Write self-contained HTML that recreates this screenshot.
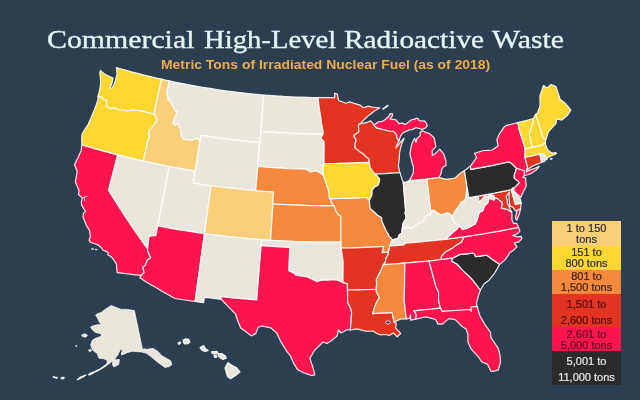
<!DOCTYPE html>
<html><head><meta charset="utf-8"><style>
html,body{margin:0;padding:0;}
.title,.sub,.ll{will-change:transform;}
body{width:640px;height:400px;background:#2c3e50;position:relative;overflow:hidden;font-family:"Liberation Sans",sans-serif;}
.title{position:absolute;left:47px;top:25px;font-family:"Liberation Serif",serif;font-size:25.6px;line-height:30px;color:#e8f3f3;white-space:nowrap;transform-origin:0 0;-webkit-text-stroke:0.35px #e8f3f3;}
.sub{position:absolute;left:160.5px;top:58px;font-family:"Liberation Sans",sans-serif;font-weight:bold;font-size:12.7px;line-height:14px;color:#edae48;white-space:nowrap;transform-origin:0 0;transform:scaleX(1.097);}
svg{position:absolute;left:0;top:0;}
.lb{position:absolute;left:552px;width:69px;}
.ll{position:absolute;left:552px;width:69px;text-align:center;font-size:11px;line-height:11px;white-space:nowrap;-webkit-text-stroke:0.2px currentColor;}
</style></head><body>
<svg width="640" height="400" viewBox="0 0 640 400">
<g stroke="#ffffff" stroke-opacity="0.9" stroke-width="1.2" stroke-linejoin="round">
<path fill="#fed732" d="M116.4,67.6L121.4,69.0L126.4,70.4L131.4,71.8L136.4,73.1L141.5,74.4L146.5,75.7L151.6,76.9L156.6,78.1L161.7,79.2L160.0,86.7L158.3,94.2L156.6,101.7L154.9,109.2L154.7,114.3L149.2,113.0L143.6,111.7L138.0,110.4L135.2,110.5L132.8,110.1L127.3,111.0L123.7,110.0L119.0,109.8L114.3,107.9L110.2,108.6L106.4,106.2L106.7,101.0L103.7,99.2L101.0,96.9L98.0,96.1L99.1,92.2L100.0,88.1L100.6,83.9L100.4,77.6L99.8,73.1L100.3,70.4L103.8,73.5L108.5,76.0L113.0,78.0L111.9,83.6L110.0,88.0L112.0,88.0L114.1,84.2L115.5,80.3L117.1,73.9L116.4,67.6Z"/>
<path fill="#fed732" d="M98.0,96.1L101.0,96.9L103.7,99.2L106.7,101.0L106.4,106.2L110.2,108.6L114.3,107.9L119.0,109.8L123.7,110.0L127.3,111.0L132.8,110.1L135.2,110.5L138.0,110.4L143.6,111.7L149.2,113.0L154.7,114.3L157.3,120.0L154.5,124.1L151.9,127.8L148.4,131.9L149.1,134.6L149.5,138.4L148.0,139.9L146.5,146.9L144.9,154.0L143.3,161.1L138.2,159.9L133.0,158.7L127.9,157.5L122.8,156.2L117.7,154.9L112.6,153.6L107.4,152.2L102.3,150.8L97.2,149.3L92.1,147.9L87.0,146.3L81.9,144.8L81.7,139.7L82.0,134.2L84.9,129.3L88.3,124.1L90.0,120.2L91.7,116.3L93.9,110.7L96.1,105.1L98.0,99.4L98.0,96.1Z"/>
<path fill="#fe154e" d="M81.9,144.8L87.0,146.3L92.1,147.9L97.2,149.3L102.3,150.8L107.4,152.2L112.6,153.6L117.7,154.9L115.9,161.9L114.1,169.0L112.3,176.0L110.5,183.0L108.7,190.1L112.3,196.0L116.0,201.9L119.7,207.8L123.5,213.7L127.4,219.5L131.3,225.4L135.3,231.2L139.3,237.0L143.4,242.8L147.6,248.6L147.7,251.1L150.7,257.8L147.3,260.2L145.2,265.4L142.9,267.4L144.1,272.5L141.3,275.4L135.3,274.8L129.3,274.1L123.3,273.4L117.3,272.7L116.7,269.2L116.5,264.2L114.1,260.5L112.6,258.3L110.1,255.9L108.2,255.4L107.9,252.2L106.1,251.4L102.8,250.0L101.0,247.2L97.6,244.7L94.0,243.5L90.4,242.2L89.1,240.3L90.3,236.6L89.6,230.5L86.6,225.9L84.8,221.5L82.9,217.0L83.4,213.4L85.5,211.4L83.9,209.0L81.5,204.6L81.4,201.5L82.3,198.2L78.4,194.3L79.1,190.7L77.3,186.4L75.4,182.0L76.3,176.6L77.2,171.2L74.5,164.7L78.1,157.5L81.0,150.9L81.9,144.8Z"/>
<path fill="#f9cf7a" d="M161.7,79.2L165.5,80.1L169.3,80.9L168.1,86.8L166.8,92.7L168.3,99.5L171.0,102.4L173.0,106.8L175.5,110.9L177.4,111.0L175.3,116.8L174.2,120.2L173.0,123.5L174.9,125.0L178.6,123.9L179.1,125.7L181.1,131.2L180.6,133.6L183.5,139.1L185.4,139.1L188.5,140.0L193.4,139.6L196.8,138.5L197.7,137.9L200.0,141.5L198.8,148.9L197.6,156.3L196.4,163.7L195.3,171.1L190.0,170.2L184.8,169.3L179.6,168.4L174.4,167.5L169.2,166.5L164.0,165.5L158.8,164.4L153.6,163.3L148.5,162.2L143.3,161.1L144.9,154.0L146.5,146.9L148.0,139.9L149.5,138.4L149.1,134.6L148.4,131.9L151.9,127.8L154.5,124.1L157.3,120.0L154.7,114.3L154.9,109.2L156.6,101.7L158.3,94.2L160.0,86.7L161.7,79.2Z"/>
<path fill="#ebe6db" d="M117.7,154.9L122.8,156.2L127.9,157.5L133.0,158.7L138.2,159.9L143.3,161.1L148.5,162.2L153.6,163.3L158.8,164.4L164.0,165.5L169.2,166.5L167.8,173.9L166.3,181.3L164.9,188.7L163.4,196.2L162.0,203.6L160.6,211.0L159.1,218.5L157.7,225.9L156.8,230.7L155.9,235.4L152.4,235.8L149.0,236.2L148.3,242.4L147.6,248.6L143.4,242.8L139.3,237.0L135.3,231.2L131.3,225.4L127.4,219.5L123.5,213.7L119.7,207.8L116.0,201.9L112.3,196.0L108.7,190.1L110.5,183.0L112.3,176.0L114.1,169.0L115.9,161.9L117.7,154.9Z"/>
<path fill="#ebe6db" d="M169.2,166.5L174.4,167.5L179.6,168.4L184.8,169.3L190.0,170.2L195.3,171.1L194.3,177.0L193.3,183.0L199.3,183.9L205.2,184.8L211.1,185.6L210.0,193.6L208.9,201.6L207.8,209.6L206.7,217.6L205.6,225.6L204.5,233.6L198.6,232.8L192.7,231.9L186.9,231.0L181.0,230.1L175.2,229.1L169.3,228.1L163.5,227.0L157.7,225.9L159.1,218.5L160.6,211.0L162.0,203.6L163.4,196.2L164.9,188.7L166.3,181.3L167.8,173.9L169.2,166.5Z"/>
<path fill="#fe154e" d="M157.7,225.9L163.5,227.0L169.3,228.1L175.2,229.1L181.0,230.1L186.9,231.0L192.7,231.9L198.6,232.8L204.5,233.6L203.4,241.2L202.4,248.7L201.3,256.3L200.3,263.8L199.3,271.4L198.2,278.9L197.2,286.4L196.1,294.0L195.1,301.5L188.3,300.5L181.5,299.5L174.7,298.5L168.8,295.1L162.9,291.7L157.1,288.3L151.3,284.9L145.5,281.4L139.8,277.8L141.3,275.4L144.1,272.5L142.9,267.4L145.2,265.4L147.3,260.2L150.7,257.8L147.7,251.1L147.6,248.6L148.3,242.4L149.0,236.2L152.4,235.8L155.9,235.4L156.8,230.7L157.7,225.9Z"/>
<path fill="#ebe6db" d="M169.3,80.9L174.6,82.0L179.8,83.1L185.1,84.1L190.3,85.1L195.6,86.1L200.9,87.0L206.2,87.8L211.5,88.7L216.8,89.5L222.0,90.3L227.2,91.0L232.4,91.7L237.6,92.3L242.9,92.9L248.1,93.5L253.3,94.0L258.6,94.5L263.8,95.0L263.2,102.2L262.6,109.5L262.0,116.7L261.4,124.0L260.8,131.3L260.3,136.9L259.8,142.6L254.4,142.1L249.1,141.6L243.7,141.0L238.3,140.4L233.0,139.8L227.6,139.2L222.3,138.5L216.9,137.8L211.6,137.0L206.3,136.2L201.0,135.4L200.0,141.5L197.7,137.9L196.8,138.5L193.4,139.6L188.5,140.0L185.4,139.1L183.5,139.1L180.6,133.6L181.1,131.2L179.1,125.7L178.6,123.9L174.9,125.0L173.0,123.5L174.2,120.2L175.3,116.8L177.4,111.0L175.5,110.9L173.0,106.8L171.0,102.4L168.3,99.5L166.8,92.7L168.1,86.8L169.3,80.9Z"/>
<path fill="#ebe6db" d="M200.0,141.5L201.0,135.4L206.3,136.2L211.6,137.0L216.9,137.8L222.3,138.5L227.6,139.2L233.0,139.8L238.3,140.4L243.7,141.0L249.1,141.6L254.4,142.1L259.8,142.6L259.1,150.5L258.4,158.5L257.8,166.5L257.1,174.6L256.4,182.6L255.7,190.6L250.1,190.1L244.5,189.6L239.0,189.0L233.4,188.4L227.8,187.8L222.2,187.1L216.7,186.4L211.1,185.6L205.2,184.8L199.3,183.9L193.3,183.0L194.3,177.0L195.3,171.1L196.4,163.7L197.6,156.3L198.8,148.9L200.0,141.5Z"/>
<path fill="#f9cf7a" d="M211.1,185.6L216.7,186.4L222.2,187.1L227.8,187.8L233.4,188.4L239.0,189.0L244.5,189.6L250.1,190.1L255.7,190.6L261.7,191.1L267.7,191.5L273.6,191.9L273.2,198.0L272.9,204.0L272.4,211.3L272.0,218.5L271.5,225.8L271.1,233.0L270.6,240.3L266.1,240.0L261.5,239.7L255.2,239.2L248.8,238.6L242.5,238.1L236.1,237.4L229.8,236.8L223.5,236.0L217.1,235.3L210.8,234.5L204.5,233.6L205.6,225.6L206.7,217.6L207.8,209.6L208.9,201.6L210.0,193.6L211.1,185.6Z"/>
<path fill="#ebe6db" d="M204.5,233.6L210.8,234.5L217.1,235.3L223.5,236.0L229.8,236.8L236.1,237.4L242.5,238.1L248.8,238.6L255.2,239.2L261.5,239.7L261.1,245.7L260.5,253.5L259.8,261.2L259.2,269.0L258.6,276.7L258.0,284.5L257.3,292.2L256.7,299.9L250.7,299.4L244.7,298.9L238.6,298.4L232.6,297.8L226.6,297.2L220.6,296.6L221.2,299.3L215.6,298.6L209.9,298.0L204.3,297.3L203.6,302.6L199.3,302.1L195.1,301.5L196.1,294.0L197.2,286.4L198.2,278.9L199.3,271.4L200.3,263.8L201.3,256.3L202.4,248.7L203.4,241.2L204.5,233.6Z"/>
<path fill="#ebe6db" d="M263.8,95.0L269.3,95.4L274.7,95.8L280.1,96.2L285.5,96.5L290.9,96.8L296.4,97.0L301.8,97.2L307.2,97.4L312.7,97.5L318.1,97.6L318.7,103.6L319.6,110.4L320.9,117.9L321.4,122.9L322.9,130.3L323.2,134.2L317.5,134.1L311.9,134.0L306.2,133.9L300.5,133.7L294.8,133.5L289.1,133.2L283.4,132.9L277.8,132.6L272.1,132.2L266.4,131.8L260.8,131.3L261.4,124.0L262.0,116.7L262.6,109.5L263.2,102.2L263.8,95.0Z"/>
<path fill="#ebe6db" d="M260.8,131.3L266.4,131.8L272.1,132.2L277.8,132.6L283.4,132.9L289.1,133.2L294.8,133.5L300.5,133.7L306.2,133.9L311.9,134.0L317.5,134.1L323.2,134.2L320.8,138.0L324.1,141.8L324.1,149.0L324.0,156.3L324.0,163.5L322.7,168.3L323.7,175.7L319.1,172.2L315.7,171.0L310.4,172.1L306.1,169.2L300.0,169.0L294.0,168.8L288.0,168.6L281.9,168.2L275.9,167.9L269.8,167.5L263.8,167.0L257.8,166.5L258.4,158.5L259.1,150.5L259.8,142.6L260.3,136.9L260.8,131.3Z"/>
<path fill="#f6893e" d="M257.8,166.5L263.8,167.0L269.8,167.5L275.9,167.9L281.9,168.2L288.0,168.6L294.0,168.8L300.0,169.0L306.1,169.2L310.4,172.1L315.7,171.0L319.1,172.2L323.7,175.7L325.7,181.6L327.1,186.1L328.5,190.5L329.1,193.7L329.3,197.5L330.0,198.8L333.1,205.2L334.2,205.8L328.0,205.8L321.9,205.8L315.8,205.7L309.6,205.6L303.5,205.4L297.4,205.2L291.2,205.0L285.1,204.7L279.0,204.4L272.9,204.0L273.2,198.0L273.6,191.9L267.7,191.5L261.7,191.1L255.7,190.6L256.4,182.6L257.1,174.6L257.8,166.5Z"/>
<path fill="#f6893e" d="M272.9,204.0L279.0,204.4L285.1,204.7L291.2,205.0L297.4,205.2L303.5,205.4L309.6,205.6L315.8,205.7L321.9,205.8L328.0,205.8L334.2,205.8L336.0,211.1L338.0,214.2L340.8,216.3L340.9,222.8L340.9,229.2L340.9,235.6L341.0,242.0L334.6,242.1L328.2,242.1L321.8,242.1L315.4,242.0L309.0,241.9L302.6,241.8L296.2,241.6L289.8,241.3L283.4,241.0L277.0,240.7L270.6,240.3L271.1,233.0L271.5,225.8L272.0,218.5L272.4,211.3L272.9,204.0Z"/>
<path fill="#ebe6db" d="M270.6,240.3L277.0,240.7L283.4,241.0L289.8,241.3L296.2,241.6L302.6,241.8L309.0,241.9L315.4,242.0L321.8,242.1L328.2,242.1L334.6,242.1L341.0,242.0L341.1,248.1L342.1,254.7L343.1,261.4L343.1,268.5L343.0,275.5L343.0,282.6L337.8,280.1L332.3,279.6L327.9,280.2L322.0,280.2L316.5,281.4L312.6,279.5L307.2,277.0L302.3,276.2L296.4,275.5L293.5,272.9L288.7,270.8L289.0,263.0L289.4,255.2L289.7,247.4L284.0,247.1L278.3,246.8L272.5,246.5L266.8,246.1L261.1,245.7L261.5,239.7L266.1,240.0L270.6,240.3Z"/>
<path fill="#fe154e" d="M261.1,245.7L266.8,246.1L272.5,246.5L278.3,246.8L284.0,247.1L289.7,247.4L289.4,255.2L289.0,263.0L288.7,270.8L293.5,272.9L296.4,275.5L302.3,276.2L307.2,277.0L312.6,279.5L316.5,281.4L322.0,280.2L327.9,280.2L332.3,279.6L337.8,280.1L343.0,282.6L347.4,283.6L347.5,290.0L347.6,296.3L347.7,302.5L350.3,307.7L351.6,312.0L351.1,319.9L350.7,325.8L350.3,330.0L347.0,329.6L343.0,332.0L341.0,333.0L338.5,330.0L337.0,336.1L334.0,338.5L331.0,341.0L327.0,343.5L322.9,342.0L321.5,343.5L318.1,346.9L315.0,350.0L313.4,352.0L312.1,354.6L309.9,358.1L311.2,362.5L312.5,366.0L313.8,370.4L314.8,374.8L311.6,375.5L307.6,374.1L303.7,372.7L297.6,369.6L293.5,363.1L290.5,355.9L287.4,352.2L283.9,346.6L280.5,341.1L278.6,337.0L276.7,333.0L273.7,330.4L270.7,327.8L266.3,326.9L262.0,326.0L258.2,327.2L255.7,333.6L251.3,335.9L246.3,332.0L240.7,328.1L237.9,321.3L235.4,313.8L231.5,309.8L227.5,305.8L224.3,302.5L221.2,299.3L220.6,296.6L226.6,297.2L232.6,297.8L238.6,298.4L244.7,298.9L250.7,299.4L256.7,299.9L257.3,292.2L258.0,284.5L258.6,276.7L259.2,269.0L259.8,261.2L260.5,253.5L261.1,245.7Z"/>
<path fill="#e23421" d="M318.1,97.6L323.6,97.7L329.2,97.7L334.7,97.7L334.6,93.2L337.3,94.1L338.7,100.6L342.3,101.7L345.6,103.2L349.9,101.9L355.2,103.7L360.1,105.1L363.5,107.8L368.2,106.1L372.3,107.1L376.0,107.5L379.7,107.9L376.9,109.6L374.2,111.2L371.5,113.3L368.7,115.4L364.0,119.7L360.1,123.8L358.5,124.8L358.8,131.9L353.8,135.4L356.1,140.1L355.0,144.4L355.1,148.0L359.5,151.4L363.0,153.7L365.3,156.0L368.8,158.9L369.3,162.4L363.6,162.7L358.0,162.9L352.3,163.1L346.7,163.3L341.0,163.4L335.3,163.5L329.7,163.5L324.0,163.5L324.0,156.3L324.1,149.0L324.1,141.8L320.8,138.0L323.2,134.2L322.9,130.3L321.4,122.9L320.9,117.9L319.6,110.4L318.7,103.6L318.1,97.6Z"/>
<path fill="#fed732" d="M324.0,163.5L329.7,163.5L335.3,163.5L341.0,163.4L346.7,163.3L352.3,163.1L358.0,162.9L363.6,162.7L369.3,162.4L370.2,167.8L372.6,171.0L375.0,174.2L377.2,175.9L379.6,178.8L379.3,181.8L378.2,185.2L374.7,186.9L372.2,190.1L372.0,195.0L369.4,200.2L366.4,197.5L360.4,197.8L354.3,198.1L348.2,198.3L342.1,198.5L336.1,198.7L330.0,198.8L329.3,197.5L329.1,193.7L328.5,190.5L327.1,186.1L325.7,181.6L323.7,175.7L322.7,168.3L324.0,163.5Z"/>
<path fill="#f6893e" d="M330.0,198.8L336.1,198.7L342.1,198.5L348.2,198.3L354.3,198.1L360.4,197.8L366.4,197.5L369.4,200.2L369.8,205.6L370.2,208.4L373.9,211.8L377.7,215.3L381.5,217.5L381.9,221.1L383.7,225.2L385.5,229.3L389.3,236.4L392.8,239.8L391.1,242.3L389.9,246.0L388.4,252.2L382.0,252.7L383.7,246.4L377.7,246.8L371.6,247.1L365.5,247.4L359.4,247.6L353.3,247.8L347.2,248.0L341.1,248.1L341.0,242.0L340.9,235.6L340.9,229.2L340.9,222.8L340.8,216.3L338.0,214.2L336.0,211.1L334.2,205.8L333.1,205.2L330.0,198.8Z"/>
<path fill="#e23421" d="M341.1,248.1L347.2,248.0L353.3,247.8L359.4,247.6L365.5,247.4L371.6,247.1L377.7,246.8L383.7,246.4L382.0,252.7L388.4,252.2L388.1,254.7L385.9,258.4L385.2,262.7L383.3,264.7L380.8,270.9L378.1,275.9L376.4,279.6L376.6,284.4L376.2,289.3L370.4,289.5L364.7,289.7L359.0,289.8L353.2,290.0L347.5,290.0L347.4,283.6L343.0,282.6L343.0,275.5L343.1,268.5L343.1,261.4L342.1,254.7L341.1,248.1Z"/>
<path fill="#e23421" d="M347.5,290.0L353.2,290.0L359.0,289.8L364.7,289.7L370.4,289.5L376.2,289.3L376.3,291.7L379.3,297.6L376.5,302.5L374.7,306.7L372.6,313.6L379.1,313.2L385.6,312.9L392.1,312.5L393.1,317.4L394.1,322.2L396.3,323.6L395.5,327.9L398.9,331.3L400.7,333.6L397.2,336.8L393.3,332.9L389.2,335.5L385.5,334.5L380.3,334.8L377.1,333.8L372.8,331.0L366.5,331.3L361.8,330.1L357.0,328.9L350.3,330.0L350.7,325.8L351.1,319.9L351.6,312.0L350.3,307.7L347.7,302.5L347.6,296.3L347.5,290.0Z"/>
<path fill="#e23421" d="M360.1,123.8L363.7,123.1L367.4,122.3L370.6,120.9L374.2,124.9L374.0,125.3L376.7,127.9L381.0,129.0L385.3,130.0L388.9,131.0L393.6,131.3L396.6,134.7L397.1,138.2L398.9,141.1L397.0,144.3L396.0,148.0L398.0,145.4L400.6,142.1L404.1,138.2L401.7,143.9L400.1,150.0L399.5,153.1L399.4,157.4L398.9,161.6L398.4,165.9L399.6,171.5L399.9,172.6L394.9,173.0L389.9,173.3L384.9,173.6L380.0,174.0L375.0,174.2L372.6,171.0L370.2,167.8L369.3,162.4L368.8,158.9L365.3,156.0L363.0,153.7L359.5,151.4L355.1,148.0L355.0,144.4L356.1,140.1L353.8,135.4L358.8,131.9L358.5,124.8L360.1,123.8Z"/>
<path fill="#2b2b2b" d="M375.0,174.2L380.0,174.0L384.9,173.6L389.9,173.3L394.9,173.0L399.9,172.6L402.3,180.1L403.2,181.9L403.8,188.9L404.4,196.0L405.0,203.1L405.6,210.2L405.2,213.3L406.1,218.0L402.9,223.8L402.2,229.3L401.8,233.0L399.1,235.0L398.0,238.4L392.8,239.8L389.3,236.4L385.5,229.3L383.7,225.2L381.9,221.1L381.5,217.5L377.7,215.3L373.9,211.8L370.2,208.4L369.8,205.6L369.4,200.2L372.0,195.0L372.2,190.1L374.7,186.9L378.2,185.2L379.3,181.8L379.6,178.8L377.2,175.9L375.0,174.2Z"/>
<path fill="#ebe6db" d="M403.2,181.9L405.2,182.6L409.3,180.6L415.2,180.1L421.2,179.6L427.1,179.0L428.0,186.9L428.9,194.8L429.8,202.7L430.7,210.6L431.4,214.4L425.9,215.7L423.3,221.5L417.9,223.6L414.4,226.4L411.3,228.8L406.9,226.8L402.2,229.3L402.9,223.8L406.1,218.0L405.2,213.3L405.6,210.2L405.0,203.1L404.4,196.0L403.8,188.9L403.2,181.9Z"/>
<path fill="#fe154e" d="M409.3,180.6L415.2,180.1L421.2,179.6L427.1,179.0L433.1,178.3L439.1,177.5L441.2,173.3L441.6,169.8L443.0,167.0L445.9,165.7L446.0,161.1L443.8,154.1L439.7,149.2L435.5,153.4L432.3,155.6L432.1,150.8L435.9,146.7L435.0,142.2L434.2,137.8L429.4,133.6L424.6,131.8L422.0,130.5L420.0,132.9L420.4,135.6L418.0,137.4L416.8,138.9L416.0,142.4L414.6,138.3L413.3,140.9L412.2,142.8L411.0,147.2L409.9,153.9L411.0,158.4L412.1,162.8L413.5,167.5L413.2,173.0L411.7,176.2L409.3,180.6ZM374.0,125.3L378.1,122.0L383.0,121.1L386.2,118.7L388.8,116.2L390.0,113.7L392.5,113.8L392.5,115.6L390.0,118.8L393.1,119.4L396.2,120.0L399.0,123.6L402.5,123.1L405.3,124.6L408.3,122.3L411.2,120.0L414.4,119.1L417.5,118.1L419.4,120.6L425.0,121.2L426.5,123.7L427.2,125.8L425.4,128.0L422.0,129.4L419.0,128.5L416.1,127.6L412.1,129.6L409.2,129.9L406.0,131.4L402.8,132.9L400.5,136.1L398.9,141.1L397.1,138.2L396.6,134.7L393.6,131.3L388.9,131.0L385.3,130.0L381.0,129.0L376.7,127.9L374.0,125.3Z"/>
<path fill="#f6893e" d="M427.1,179.0L433.1,178.3L439.1,177.5L440.5,177.9L446.1,179.3L449.2,178.9L452.3,178.5L454.9,178.1L458.8,174.4L462.1,172.0L464.3,170.7L465.7,178.7L467.0,186.7L466.7,189.7L466.3,193.8L465.7,197.8L464.8,200.4L460.9,202.6L460.3,204.5L458.3,206.9L456.0,210.3L455.2,211.0L453.4,215.0L452.3,216.1L451.6,215.2L448.1,212.9L444.7,213.9L441.2,214.8L437.8,213.4L433.7,210.3L430.7,210.6L429.8,202.7L428.9,194.8L428.0,186.9L427.1,179.0Z"/>
<path fill="#ebe6db" d="M430.7,210.6L433.7,210.3L437.8,213.4L441.2,214.8L444.7,213.9L448.1,212.9L451.6,215.2L452.3,216.1L452.7,219.4L455.0,222.7L459.3,225.8L459.6,225.8L456.9,229.2L451.8,233.6L449.3,236.3L445.1,239.3L440.1,239.9L435.0,240.5L430.0,241.0L425.0,241.5L418.5,242.1L412.0,242.6L405.5,243.1L403.6,245.0L399.0,245.4L394.5,245.7L389.9,246.0L391.1,242.3L392.8,239.8L398.0,238.4L399.1,235.0L401.8,233.0L402.2,229.3L406.9,226.8L411.3,228.8L414.4,226.4L417.9,223.6L423.3,221.5L425.9,215.7L431.4,214.4L430.7,210.6Z"/>
<path fill="#e23421" d="M445.1,239.3L451.4,238.5L457.7,237.7L464.0,236.8L461.7,241.9L456.3,245.2L451.9,248.6L448.3,250.6L444.7,252.6L441.3,256.9L441.4,259.5L435.2,260.3L429.0,261.0L422.7,261.6L416.4,262.2L410.1,262.7L403.8,263.2L398.7,263.6L393.6,264.0L388.4,264.3L383.3,264.7L385.2,262.7L385.9,258.4L388.1,254.7L388.4,252.2L389.9,246.0L394.5,245.7L399.0,245.4L403.6,245.0L405.5,243.1L412.0,242.6L418.5,242.1L425.0,241.5L430.0,241.0L435.0,240.5L440.1,239.9L445.1,239.3Z"/>
<path fill="#f6893e" d="M383.3,264.7L388.4,264.3L393.6,264.0L398.7,263.6L403.8,263.2L404.9,264.3L404.8,271.6L404.6,279.0L404.5,286.3L404.3,293.6L404.2,300.9L404.9,306.9L405.6,312.9L406.3,318.9L400.1,319.1L394.1,322.2L393.1,317.4L392.1,312.5L385.6,312.9L379.1,313.2L372.6,313.6L374.7,306.7L376.5,302.5L379.3,297.6L376.3,291.7L376.2,289.3L376.6,284.4L376.4,279.6L378.1,275.9L380.8,270.9L383.3,264.7Z"/>
<path fill="#fe154e" d="M403.8,263.2L410.1,262.7L416.4,262.2L422.7,261.6L429.0,261.0L430.7,267.3L432.4,273.6L434.1,279.9L435.8,286.2L438.6,292.5L438.6,296.8L438.6,301.0L440.4,308.1L433.8,308.8L427.2,309.5L420.5,310.2L413.9,310.8L416.3,314.8L415.7,319.1L410.6,320.1L410.6,314.7L409.4,318.4L406.3,318.9L405.6,312.9L404.9,306.9L404.2,300.9L404.3,293.6L404.5,286.3L404.6,279.0L404.8,271.6L404.9,264.3L403.8,263.2Z"/>
<path fill="#fe154e" d="M441.4,259.5L447.3,258.6L453.2,257.8L451.7,261.1L457.0,264.0L461.8,269.4L464.6,272.1L467.5,274.7L472.3,279.5L476.1,284.4L480.4,290.0L478.1,296.9L476.5,303.2L477.0,306.5L471.3,307.0L471.4,311.3L469.6,309.5L462.8,310.0L455.9,310.5L449.1,311.0L442.2,311.4L440.4,308.1L438.6,301.0L438.6,296.8L438.6,292.5L435.8,286.2L434.1,279.9L432.4,273.6L430.7,267.3L429.0,261.0L435.2,260.3L441.4,259.5Z"/>
<path fill="#fe154e" d="M440.4,308.1L442.2,311.4L449.1,311.0L455.9,310.5L462.8,310.0L469.6,309.5L471.4,311.3L471.3,307.0L477.0,306.5L478.5,311.3L480.0,316.0L482.2,319.9L484.4,323.8L487.5,328.2L490.6,332.5L490.9,337.3L494.5,342.8L498.1,348.2L499.8,354.0L500.2,358.2L500.5,362.3L498.4,369.9L493.1,371.4L490.8,371.1L487.6,364.4L481.6,361.7L478.8,357.3L474.9,353.1L471.0,348.8L467.9,342.0L468.0,334.8L466.1,329.0L462.7,327.1L459.0,323.3L455.3,319.6L448.9,318.6L445.6,321.4L442.3,324.2L438.1,324.1L435.5,319.5L430.6,318.2L425.8,316.9L420.8,318.0L415.7,319.1L416.3,314.8L413.9,310.8L420.5,310.2L427.2,309.5L433.8,308.8L440.4,308.1Z"/>
<path fill="#2b2b2b" d="M453.2,257.8L456.6,256.1L460.1,254.4L466.4,253.8L472.8,253.1L474.2,253.7L475.7,256.7L481.2,255.9L486.6,255.1L490.9,258.2L495.2,261.3L499.6,264.4L497.1,268.9L494.5,273.3L491.6,276.9L488.7,280.5L484.1,283.7L480.4,290.0L476.1,284.4L472.3,279.5L467.5,274.7L464.6,272.1L461.8,269.4L457.0,264.0L451.7,261.1L453.2,257.8Z"/>
<path fill="#fe154e" d="M518.6,227.3L512.6,228.5L506.5,229.7L500.5,230.8L494.4,231.9L488.3,233.0L482.3,234.0L476.2,235.0L470.1,235.9L464.0,236.8L461.7,241.9L456.3,245.2L451.9,248.6L448.3,250.6L444.7,252.6L441.3,256.9L441.4,259.5L447.3,258.6L453.2,257.8L456.6,256.1L460.1,254.4L466.4,253.8L472.8,253.1L474.2,253.7L475.7,256.7L481.2,255.9L486.6,255.1L490.9,258.2L495.2,261.3L499.6,264.4L505.0,259.9L507.5,256.3L510.0,252.5L513.7,250.0L517.0,246.9L514.4,243.1L518.8,241.9L521.9,238.7L521.2,236.3L517.5,236.9L512.5,235.6L517.5,233.7L519.9,231.2L518.6,227.3Z"/>
<path fill="#fe154e" d="M518.6,227.3L512.6,228.5L506.5,229.7L500.5,230.8L494.4,231.9L488.3,233.0L482.3,234.0L476.2,235.0L470.1,235.9L464.0,236.8L457.7,237.7L451.4,238.5L445.1,239.3L449.3,236.3L451.8,233.6L456.9,229.2L459.6,225.8L462.7,229.5L467.3,228.2L470.4,226.5L475.2,223.9L477.3,219.2L479.4,212.1L482.5,210.9L484.8,205.6L488.0,202.5L489.0,198.0L494.1,200.1L494.9,197.9L497.6,198.6L499.8,200.6L502.2,202.3L502.2,205.3L501.3,208.0L503.8,208.7L507.9,209.7L511.7,212.0L512.0,215.7L511.8,219.4L513.6,223.4L516.6,223.4L518.6,227.3ZM520.6,208.5L517.1,210.3L516.1,214.8L515.5,218.7L516.8,220.2L519.3,214.1L520.6,208.5Z"/>
<path fill="#ebe6db" d="M494.9,197.9L494.1,200.1L489.0,198.0L488.0,202.5L484.8,205.6L482.5,210.9L479.4,212.1L477.3,219.2L475.2,223.9L470.4,226.5L467.3,228.2L462.7,229.5L459.6,225.8L459.3,225.8L455.0,222.7L452.7,219.4L452.3,216.1L453.4,215.0L455.2,211.0L456.0,210.3L458.3,206.9L460.3,204.5L460.9,202.6L464.8,200.4L465.7,197.8L466.3,193.8L466.7,189.7L467.0,186.7L467.9,192.2L468.8,197.7L473.5,196.9L478.2,196.1L479.2,202.3L482.6,198.6L484.5,196.4L487.8,196.4L489.8,194.4L493.6,195.3L494.9,197.9Z"/>
<path fill="#e23421" d="M478.2,196.1L483.7,195.1L489.2,194.1L494.7,193.0L500.2,191.9L505.8,190.8L511.3,189.6L513.3,197.0L515.3,204.3L521.2,203.2L520.6,208.5L517.1,210.3L515.2,210.7L513.1,207.4L510.0,206.2L509.3,200.8L508.8,195.9L509.4,192.1L506.1,196.5L507.2,199.7L507.4,203.0L509.2,207.0L510.7,210.4L511.7,212.0L507.9,209.7L503.8,208.7L501.3,208.0L502.2,205.3L502.2,202.3L499.8,200.6L497.6,198.6L494.9,197.9L493.6,195.3L489.8,194.4L487.8,196.4L484.5,196.4L482.6,198.6L479.2,202.3L478.2,196.1Z"/>
<path fill="#ebe6db" d="M511.3,189.6L512.6,187.8L514.3,187.9L513.7,190.6L515.8,193.8L520.3,199.0L521.2,203.2L515.3,204.3L513.3,197.0L511.3,189.6Z"/>
<path fill="#2b2b2b" d="M516.6,168.2L511.9,163.7L509.2,161.8L503.7,163.0L498.3,164.2L492.8,165.3L487.4,166.3L481.9,167.4L476.4,168.4L470.9,169.3L470.4,166.1L467.4,168.4L464.3,170.7L465.7,178.7L467.0,186.7L467.9,192.2L468.8,197.7L473.5,196.9L478.2,196.1L483.7,195.1L489.2,194.1L494.7,193.0L500.2,191.9L505.8,190.8L511.3,189.6L512.6,187.8L514.3,187.9L516.8,185.5L519.6,182.4L514.2,178.0L514.4,174.9L516.6,168.2Z"/>
<path fill="#fe154e" d="M514.3,187.9L516.8,185.5L519.6,182.4L514.2,178.0L514.4,174.9L516.6,168.2L520.6,169.5L524.5,170.7L524.3,175.7L522.8,177.3L525.5,177.9L526.2,185.9L523.0,192.2L520.9,197.3L516.7,193.6L513.7,190.6L514.3,187.9Z"/>
<path fill="#fe154e" d="M516.6,168.2L511.9,163.7L509.2,161.8L503.7,163.0L498.3,164.2L492.8,165.3L487.4,166.3L481.9,167.4L476.4,168.4L470.9,169.3L470.4,166.1L473.1,162.4L475.8,158.7L476.5,157.3L474.5,153.4L478.8,152.0L483.2,150.5L487.6,150.3L492.0,150.0L495.1,147.9L498.1,145.7L496.9,139.8L499.2,134.4L501.9,130.4L504.5,126.5L506.4,125.4L510.2,124.5L514.1,123.5L517.9,122.6L518.7,126.8L519.5,131.0L520.9,135.0L522.3,139.0L523.7,143.9L525.1,148.8L525.1,153.2L525.0,157.5L526.3,162.5L527.6,167.4L526.6,170.2L526.3,172.2L528.2,170.7L531.6,169.4L535.0,168.2L539.2,166.4L537.1,169.2L534.0,171.4L530.8,173.6L527.6,174.7L524.3,175.7L524.5,170.7L520.6,169.5L516.6,168.2Z"/>
<path fill="#fed732" d="M517.9,122.6L523.0,121.3L528.1,120.0L533.1,118.7L533.2,122.5L531.1,128.1L529.3,134.7L531.1,141.7L532.0,147.4L528.5,148.1L525.1,148.8L523.7,143.9L522.3,139.0L520.9,135.0L519.5,131.0L518.7,126.8L517.9,122.6Z"/>
<path fill="#fed732" d="M533.1,118.7L535.6,114.4L538.1,121.9L540.6,129.3L542.6,136.9L544.9,139.4L545.8,139.6L545.4,142.1L541.9,145.2L536.9,146.3L532.0,147.4L531.1,141.7L529.3,134.7L531.1,128.1L533.2,122.5L533.1,118.7Z"/>
<path fill="#fed732" d="M535.6,114.4L537.6,112.7L538.8,109.2L540.1,105.8L540.0,100.8L539.9,95.9L541.7,90.7L543.5,85.4L547.0,87.9L551.1,84.5L556.0,86.6L558.1,93.0L560.2,99.5L564.4,102.4L568.4,106.8L570.8,110.2L567.5,115.3L564.7,117.7L561.8,120.1L557.0,119.0L555.8,123.8L553.4,126.4L551.0,128.9L548.3,132.2L546.4,138.3L545.8,139.6L544.9,139.4L542.6,136.9L540.6,129.3L538.1,121.9L535.6,114.4Z"/>
<path fill="#fed732" d="M532.0,147.4L536.9,146.3L541.9,145.2L545.4,142.1L545.4,144.6L547.1,148.6L548.7,150.8L551.0,152.5L553.2,153.1L555.5,152.5L556.6,153.5L553.2,155.2L549.9,156.4L547.6,157.6L547.2,158.8L543.3,153.3L539.7,154.2L534.8,155.4L529.9,156.5L525.0,157.5L525.1,153.2L525.1,148.8L528.5,148.1L532.0,147.4Z"/>
<path fill="#ebe6db" d="M539.7,154.2L543.3,153.3L547.2,158.8L544.4,161.4L541.4,162.5L540.6,158.4L539.7,154.2Z"/>
<path fill="#e23421" d="M525.0,157.5L529.9,156.5L534.8,155.4L539.7,154.2L540.6,158.4L541.4,162.5L535.9,164.6L531.8,166.5L526.6,170.2L527.6,167.4L526.3,162.5L525.0,157.5Z"/>
<path fill="#ebe6db" stroke-width="0.8" d="M134.4,310.6L142.5,349.4L144.4,348.75L146.25,349.4L153,348.4L158,351.5L161.6,355.5L170.6,360.8L171.9,364.5L169.4,366.6L165,367.4L157.5,362L150.6,356.3L146,353L141.25,351.9L132.5,351.25L127.5,352.5L125,353.75L121.25,355L122.5,348.75L120,350L118.1,354.4L115,358.75L110,363.1L103.75,367.5L97.5,371.25L88.75,374.4L92.5,372.5L100,368.75L106.9,363.75L107.5,360.6L103.75,358.75L98.75,358.1L97.5,353.75L92.5,350L90.6,345L92.5,340L96.25,338.1L101.25,336.25L101.25,333.75L95.6,332.5L92.5,330L90.6,326.9L93.75,325.6L98.75,324.4L102.5,325L100,323.1L97.5,318.1L95.6,315L97.5,313.75L101.25,312.5L105,309.4L111.25,305.6L116.25,307.5L121.25,309.4L127.5,309.4ZM53,376.5L57.7,377.5L57,378.6L53.3,377.5ZM61,377.5L64.2,377L64,378.8L61.2,379ZM77,379.5L80,377L86.2,374.7L85,376.2L80.5,378.5L77.5,380ZM88.1,374.5L91,372.8L93.7,371.9L93.2,373.5L89,375.3ZM113,360L119.4,359.4L118.75,364.4L113.75,366.9L112.5,364.4ZM81.7,335L85,333.8L87.3,335L86,337.2L82.5,336.6ZM88.4,350L90.5,349.4L91.8,350.6L89.6,351.8ZM75.5,345.8L76.8,345.6L76.6,346.6Z"/>
<path fill="#ebe6db" d="M183.1,340L185.6,338.75L188.75,339.4L190,341.9L188.1,343.75L185,344L183.5,342.5Z M178.1,343.1L180,341.9L180.6,343.1L179,344.4Z M200,347.5L203.75,345.6L205.6,348.75L208.1,350.6L205,351.5L201.9,350.25Z M211.25,351.9L216.9,351.25L218.1,353.1L212.5,353.75Z M214,355L216.25,354.75L216.9,357.25L214.75,357.5Z M218.1,353.75L221.9,353.5L225.6,356.25L226.25,358.1L223.1,359.4L220.6,358.1L218.75,356.25Z M228.1,362.5L230.6,364.4L236.9,368.1L240,371.9L236.25,375L230.6,378.75L227.5,376.5L225.6,370L225,368.1L226.5,365Z"/>
<path fill="#ebe6db" stroke-width="0.7" d="M382.3,108.8L387.6,105L388.5,105.8L383.3,109.5Z"/>
<ellipse cx="388.1" cy="322.4" rx="2.4" ry="1.6" fill="#2c3e50" stroke-width="0.9"/>
<path fill="none" stroke-width="0.9" d="M82.4,197.8L84.5,197.0L87.8,196.3M84.3,197.2L84.6,200.8"/>
<path fill="#ebe6db" stroke="none" d="M91,248.6L93.8,248.3L94,249.6L91.3,249.8Z M94.8,248.7L97.6,249L97.4,250.2L94.9,249.9Z"/>
<path fill="#ebe6db" stroke-width="0.6" d="M550.2,158.3L552.2,158L552,159.4L550.4,159.5Z"/>

</g>
</svg>
<div class="title" style="left:47.00px;transform:scaleX(1.1654)">Commercial</div><div class="title" style="left:203.50px;transform:scaleX(1.1208)">High-Level</div><div class="title" style="left:343.50px;transform:scaleX(1.1459)">Radioactive</div><div class="title" style="left:491.86px;transform:scaleX(1.1635)">Waste</div>
<div class="sub" id="sub">Metric Tons of Irradiated Nuclear Fuel (as of 2018)</div>
<div class="lb" style="top:221.4px;height:24.299999999999983px;background:#f9cf7a"></div><div class="lb" style="top:245.7px;height:24.30000000000001px;background:#fed732"></div><div class="lb" style="top:270px;height:23.69999999999999px;background:#f6893e"></div><div class="lb" style="top:293.7px;height:33.60000000000002px;background:#e23421"></div><div class="lb" style="top:327.3px;height:23.899999999999977px;background:#fe154e"></div><div class="lb" style="top:351.2px;height:33.5px;background:#2b2b2b"></div><div class="ll" style="top:223.1px;color:#2b2b2b">1 to 150</div><div class="ll" style="top:233.9px;color:#2b2b2b">tons</div><div class="ll" style="top:247.0px;color:#2b2b2b">151 to</div><div class="ll" style="top:257.8px;color:#2b2b2b">800 tons</div><div class="ll" style="top:271.1px;color:#3a2010">801 to</div><div class="ll" style="top:282.2px;color:#3a2010">1,500 tons</div><div class="ll" style="top:298.8px;color:#4e0c08">1,501 to</div><div class="ll" style="top:314.6px;color:#4e0c08">2,600 tons</div><div class="ll" style="top:328.6px;color:#5c0820">2,601 to</div><div class="ll" style="top:339.5px;color:#5c0820">5,000 tons</div><div class="ll" style="top:356.4px;color:#e8e8e8">5,001 to</div><div class="ll" style="top:372.2px;color:#e8e8e8">11,000 tons</div>
</body></html>
